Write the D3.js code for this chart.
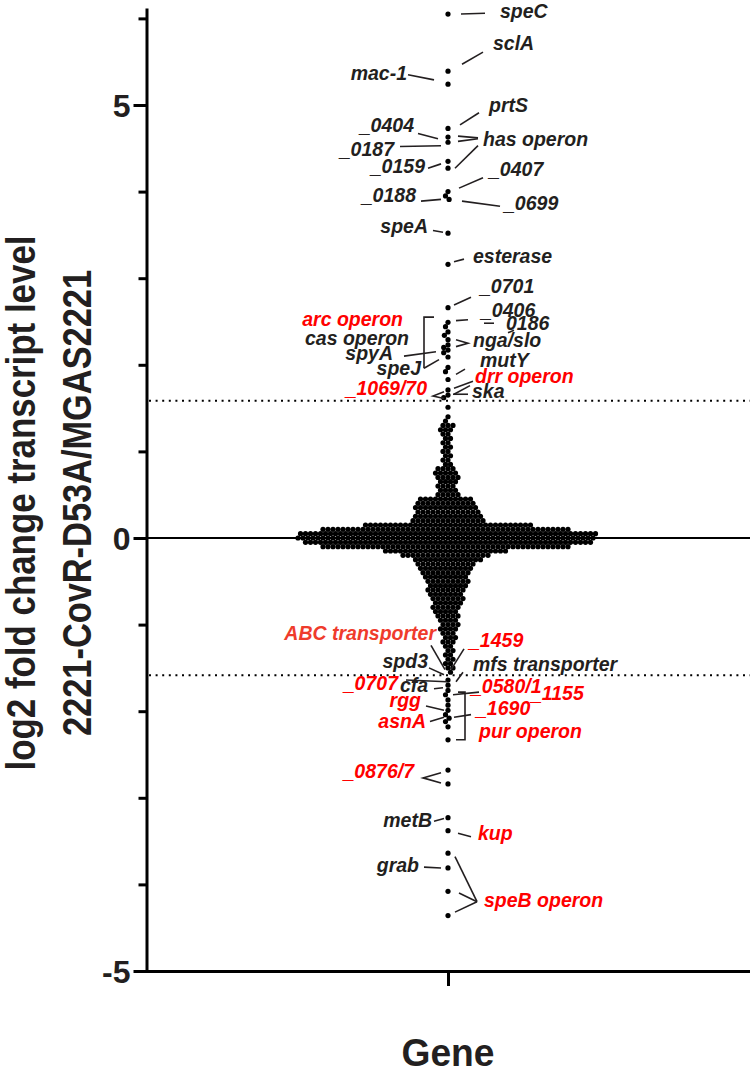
<!DOCTYPE html>
<html><head><meta charset="utf-8">
<script src="https://cdn.jsdelivr.net/npm/d3@7"></script>
<style>body{margin:0;background:#fff} svg{display:block}</style>
</head><body>
<svg id="chart" width="750" height="1075"></svg>
<script>
// ---------------- DATA ----------------
const category = ["Gene"];
const yMajorTicks = [-5, 0, 5];
const yMinorTicks = [-4, -3, -2, -1, 1, 2, 3, 4, 6];
const thresholds = [1.585, -1.585];           // log2(3)

// dense swarm read as a histogram: bin centre (log2 FC) and number of genes in the bin
const binCenters = [1.40, 1.35, 1.30, 1.25, 1.20, 1.15, 1.10, 1.05, 1.00, 0.95, 0.90, 0.85,
  0.80, 0.75, 0.70, 0.65, 0.60, 0.55, 0.50, 0.45, 0.40, 0.35, 0.30, 0.25, 0.20, 0.15, 0.10,
  0.05, 0.00, -0.05, -0.10, -0.15, -0.20, -0.25, -0.30, -0.35, -0.40, -0.45, -0.50, -0.55,
  -0.60, -0.65, -0.70, -0.75, -0.80, -0.85, -0.90, -0.95, -1.00, -1.05, -1.10, -1.15, -1.20,
  -1.25, -1.30, -1.35, -1.40, -1.45, -1.50, -1.55];
const binCounts = [1, 1, 3, 3, 2, 2, 2, 2, 2, 2, 2, 2,
  4, 5, 5, 4, 4, 4, 5, 11, 12, 13, 13, 14, 15, 34, 50,
  60, 60, 58, 50, 25, 18, 14, 12, 11, 10, 9, 9, 8,
  8, 7, 7, 6, 6, 5, 5, 4, 4, 4, 3, 3, 3,
  2, 2, 2, 2, 2, 2, 1];

// individually visible genes
const upperGenes = [6.05, 5.39, 5.24, 4.73, 4.63, 4.57, 4.35, 4.27, 4.00, 3.95, 3.91, 3.52, 3.16, 2.66,
  2.49, 2.44, 2.38, 2.34, 2.29, 2.23, 2.20, 2.17, 2.14, 2.09, 1.97, 1.92, 1.83, 1.71, 1.65, 1.62, 1.51];
const lowerGenes = [-1.64, -1.70, -1.76, -1.81, -1.87, -1.93, -1.99, -2.04, -2.08, -2.12, -2.18, -2.33,
  -2.68, -2.84, -3.23, -3.38, -3.64, -3.81, -4.08, -4.36];

// gene labels: text, colour key, anchor, horizontal offset (px) from column, baseline value, leader polylines [dx, value]
const labels = [
  ["speC","k","start",52,6.01,[[[13,6.05],[37,6.06]]]],
  ["sclA","k","start",45,5.64,[[[14,5.47],[35,5.61]]]],
  ["mac-1","k","end",-41,5.29,[[[-40,5.35],[-14,5.29]]]],
  ["prtS","k","start",41,4.92,[[[12,4.77],[31,4.91]]]],
  ["_0404","k","end",-34,4.69,[[[-30,4.67],[-10,4.61]]]],
  ["_0187","k","end",-54,4.41,[[[-48,4.52],[-7,4.53]]]],
  ["has operon","k","start",35,4.53,[[[10,4.64],[30,4.62]],[[10,4.58],[30,4.61]],[[7,4.27],[30,4.53]]]],
  ["_0159","k","end",-23,4.21,[[[-20,4.27],[-7,4.32]]]],
  ["_0407","k","start",41,4.18,[[[11,4.04],[35,4.16]]]],
  ["_0188","k","end",-32,3.88,[[[-27,3.89],[-7,3.91]]]],
  ["_0699","k","start",56,3.79,[[[14,3.89],[52,3.83]]]],
  ["speA","k","end",-20,3.52,[[[-15,3.55],[-5,3.53]]]],
  ["esterase","k","start",25,3.18,[[[6,3.19],[16,3.22]]]],
  ["_0701","k","start",32,2.83,[[[6,2.69],[23,2.78]]]],
  ["_0406","k","start",33,2.55,[[[8,2.51],[20,2.52]]]],
  ["0186","k","start",58,2.40,[[[36,2.48],[46,2.48]],[[60,2.37],[66,2.40]]]],
  ["arc operon","r","end",-45,2.45,[[[-14,2.55],[-24,2.55],[-24,1.96]]]],
  ["cas operon","k","end",-39,2.23,[]],
  ["spyA","k","end",-55,2.06,[[[-44,2.10],[-12,2.15]]]],
  ["speJ","k","end",-27,1.88,[[[-24,1.96],[-9,2.06]]]],
  ["nga/slo","k","start",25,2.21,[[[8,2.29],[20,2.25],[8,2.21]]]],
  ["mutY","k","start",32,1.97,[[[8,1.89],[17,1.95]]]],
  ["drr operon","r","start",27,1.79,[[[6,1.73],[25,1.81]],[[6,1.66],[22,1.76]]]],
  ["ska","k","start",24,1.62,[[[5,1.66],[20,1.66]]]],
  ["_1069/70","r","end",-21,1.65,[[[-4,1.69],[-15,1.64],[-4,1.61]]]],
  ["ABC transporter","o","end",-12,-1.18,[[[-17,-1.24],[-3,-1.52]]]],
  ["_1459","r","start",21,-1.26,[[[16,-1.28],[3,-1.52]]]],
  ["spd3","k","end",-20,-1.50,[[[-19,-1.50],[-4,-1.58]]]],
  ["mfs transporter","k","start",25,-1.54,[[[15,-1.55],[8,-1.66]]]],
  ["_0707","r","end",-50,-1.76,[[[-42,-1.64],[-1,-1.66]]]],
  ["cfa","k","start",-48,-1.78,[[[-14,-1.74],[-5,-1.73]]]],
  ["_0580/1","r","start",23,-1.79,[[[5,-1.81],[31,-1.78]]]],
  ["_1155","r","start",83,-1.87,[]],
  ["rgg","r","end",-27,-1.95,[[[-22,-1.94],[-4,-1.99]]]],
  ["_1690","r","start",28,-2.04,[[[6,-2.07],[23,-2.04]]]],
  ["asnA","r","end",-22,-2.19,[[[-18,-2.12],[-4,-2.07]]]],
  ["pur operon","r","start",31,-2.31,[[[10,-1.78],[17,-1.78],[17,-2.33],[8,-2.33]]]],
  ["_0876/7","r","end",-34,-2.77,[[[-7,-2.71],[-25,-2.77],[-7,-2.83]]]],
  ["metB","k","end",-16,-3.34,[[[-14,-3.27],[-4,-3.24]]]],
  ["kup","r","start",30,-3.49,[[[10,-3.41],[23,-3.45]]]],
  ["grab","k","end",-29,-3.86,[[[-24,-3.80],[-7,-3.81]]]],
  ["speB operon","r","start",36,-4.26,[[[7,-3.68],[29,-4.20]],[[11,-4.10],[29,-4.20]],[[7,-4.32],[29,-4.20]]]]
];

// ---------------- STYLE / LAYOUT ----------------
const W = 750, H = 1075;
const ink = "#231f20";
const colours = {k: "#231f20", r: "#ff0000", o: "#ef3b2c"};
const font = "'Liberation Sans', Arial, Helvetica, sans-serif";
const R = 2.6, D = 5;

const svg = d3.select("#chart");
const y = d3.scaleLinear().domain([-5, 6.12]).range([971, 8]);
const x = d3.scalePoint().domain(category).range([146, 750]).padding(0.5);
const cx = x("Gene");

// reference lines
svg.append("line").attr("x1", 147).attr("x2", W).attr("y1", y(0)).attr("y2", y(0))
  .attr("stroke", "#000").attr("stroke-width", 2);
svg.selectAll(".thr").data(thresholds).join("line").attr("class","thr")
  .attr("x1", 149).attr("x2", W).attr("y1", d => y(d)).attr("y2", d => y(d))
  .attr("stroke", "#000").attr("stroke-width", 2).attr("stroke-dasharray", "2 4.6");

// build points
const values = [];
binCenters.forEach((c, i) => { for (let k = 0; k < binCounts[i]; k++) values.push(c); });
upperGenes.forEach(v => values.push(v));
lowerGenes.forEach(v => values.push(v));

// beeswarm (dodge) layout around the column centre
const pts = values.map(v => ({v, py: y(v), ox: 0})).sort((a, b) => a.py - b.py);
const placed = [];
let start = 0;
const tol = 0.05;
for (const p of pts) {
  while (start < placed.length && placed[start].py < p.py - D) start++;
  const nb = placed.slice(start);
  const cands = [0];
  for (const q of nb) {
    const dy = q.py - p.py;
    const h = Math.sqrt(Math.max(0, D * D - dy * dy));
    cands.push(q.ox + h, q.ox - h);
  }
  cands.sort((a, b) => (Math.abs(a) - Math.abs(b)) || (a - b));
  for (const c of cands) {
    if (nb.every(q => (q.ox - c) ** 2 + (q.py - p.py) ** 2 >= D * D - tol)) { p.ox = c; break; }
  }
  placed.push(p);
}

svg.append("g").selectAll("circle").data(pts).join("circle")
  .attr("cx", d => cx + d.ox).attr("cy", d => d.py).attr("r", R).attr("fill", "#000");

// axes
const fmt = d => String(d);
const gy = svg.append("g").attr("transform", "translate(146.5,0)");
gy.call(d3.axisLeft(y).tickValues(yMajorTicks).tickSize(13).tickSizeOuter(0).tickPadding(3).tickFormat(fmt));
gy.call(g => g.select(".domain").attr("stroke-width", 3).attr("stroke", "#000"));
gy.selectAll(".tick line").attr("stroke-width", 3).attr("stroke", "#000");
gy.selectAll(".tick text").attr("font-family", font).attr("font-weight", "bold")
  .attr("font-size", 32).attr("fill", ink).attr("dy", "0.36em");
const gm = svg.append("g").attr("transform", "translate(146.5,0)");
gm.call(d3.axisLeft(y).tickValues(yMinorTicks).tickSize(8).tickFormat(""));
gm.select(".domain").remove();
gm.selectAll(".tick line").attr("stroke-width", 3).attr("stroke", "#000");

const gx = svg.append("g").attr("transform", `translate(0,${y(-5)})`);
gx.call(d3.axisBottom(x).tickSize(15).tickSizeOuter(0).tickFormat(""));
gx.select(".domain").attr("d", `M145,0.5H${W}`).attr("stroke-width", 3).attr("stroke", "#000");
gx.selectAll(".tick line").attr("stroke-width", 3).attr("stroke", "#000");

// axis titles
svg.append("text").text("Gene").attr("x", cx).attr("y", 1066)
  .attr("text-anchor", "middle").attr("font-family", font).attr("font-weight", "bold")
  .attr("font-size", 38).attr("fill", ink).attr("textLength", 93).attr("lengthAdjust", "spacingAndGlyphs");
const yTitle = [["log2 fold change transcript level", 35, 535], ["2221-CovR-D53A/MGAS2221", 91, 466]];
yTitle.forEach(([t, bx, len]) => {
  svg.append("text").text(t).attr("transform", `translate(${bx},503) rotate(-90)`)
    .attr("text-anchor", "middle").attr("font-family", font).attr("font-weight", "bold")
    .attr("font-size", 40).attr("fill", ink).attr("textLength", len).attr("lengthAdjust", "spacingAndGlyphs");
});

// labels + leader lines
const ga = svg.append("g");
const line = d3.line().x(d => cx + d[0]).y(d => y(d[1]));
labels.forEach(([t, c, anchor, dx, v, leads]) => {
  ga.append("text").text(t).attr("x", cx + dx).attr("y", y(v)).attr("text-anchor", anchor)
    .attr("font-family", font).attr("font-weight", "bold").attr("font-style", "italic")
    .attr("font-size", 19.5).attr("fill", colours[c]);
  leads.forEach(l => ga.append("path").attr("d", line(l)).attr("fill", "none")
    .attr("stroke", ink).attr("stroke-width", 1.6));
});
</script>
</body></html>
